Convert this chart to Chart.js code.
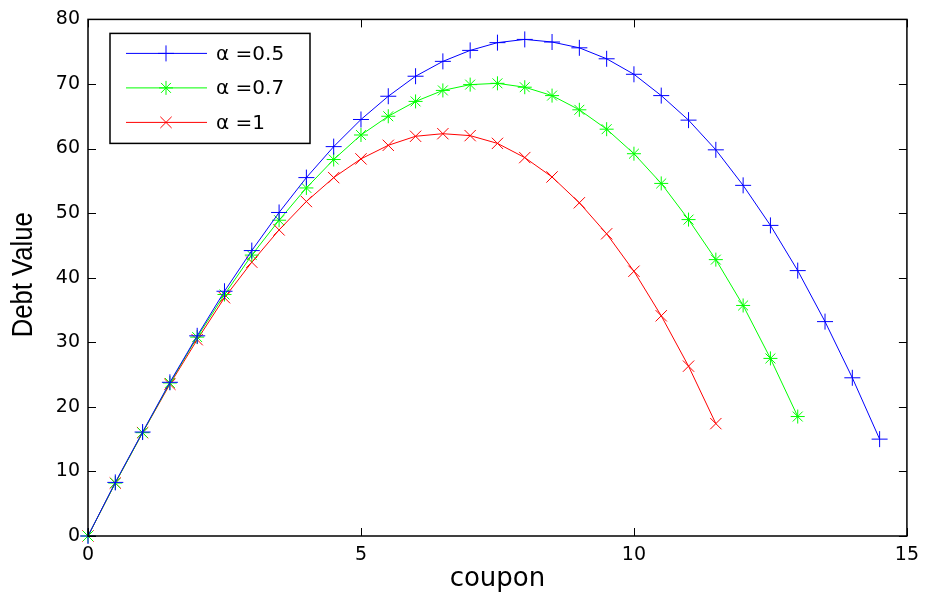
<!DOCTYPE html>
<html>
<head>
<meta charset="utf-8">
<script src="https://cdn.jsdelivr.net/npm/chart.js@4"></script>
<style>
  html, body { margin: 0; padding: 0; background: #fff; }
  #wrap { width: 927px; height: 597px; }
</style>
</head>
<body>
<div id="wrap"><canvas id="debtChart"></canvas></div>
<script>
// coupon grid (step 0.5)
const coupons = [0, 0.5, 1, 1.5, 2, 2.5, 3, 3.5, 4, 4.5, 5, 5.5, 6, 6.5, 7, 7.5,
  8, 8.5, 9, 9.5, 10, 10.5, 11, 11.5, 12, 12.5, 13, 13.5, 14, 14.5];

// debt value for each alpha
const debtA05 = [0, 8.3, 16.1, 23.8, 31.0, 37.9, 44.2, 50.1, 55.5, 60.3, 64.5, 68.1,
  71.2, 73.5, 75.2, 76.4, 76.9, 76.5, 75.6, 73.9, 71.5, 68.2, 64.4, 59.8, 54.3,
  48.1, 41.1, 33.2, 24.5, 15.0];
const debtA07 = [0, 8.2, 16.0, 23.7, 30.8, 37.4, 43.5, 48.9, 53.9, 58.3, 62.1, 65.0,
  67.3, 69.0, 69.9, 70.1, 69.5, 68.2, 66.0, 63.0, 59.2, 54.6, 49.0, 42.8, 35.7,
  27.5, 18.5];
const debtA1 = [0, 8.2, 16.0, 23.5, 30.4, 36.9, 42.4, 47.4, 51.8, 55.5, 58.4, 60.5,
  61.9, 62.3, 62.0, 60.8, 58.6, 55.6, 51.6, 46.8, 41.0, 34.1, 26.3, 17.4];

const seriesLabels = ["\u03b1 =0.5", "\u03b1 =0.7", "\u03b1 =1"];
const xTicks = [0, 5, 10, 15];
const yTicks = [0, 10, 20, 30, 40, 50, 60, 70, 80];
const yTitle = "Debt Value";

const toPoints = vals => vals.map((v, i) => ({ x: coupons[i], y: v }));

const FONT = "'DejaVu Sans', Arial, sans-serif";

// box + inward ticks on all four sides
const boxPlugin = {
  id: "box",
  afterDatasetsDraw(chart) {
    const { ctx, chartArea: a, scales } = chart;
    ctx.save();
    ctx.strokeStyle = "#000";
    ctx.lineWidth = 1;
    ctx.beginPath();
    xTicks.forEach(t => {
      const px = Math.round(scales.x.getPixelForValue(t)) + 0.5;
      ctx.moveTo(px, a.bottom); ctx.lineTo(px, a.bottom - 8);
      ctx.moveTo(px, a.top); ctx.lineTo(px, a.top + 8);
    });
    yTicks.forEach(t => {
      const py = Math.round(scales.y.getPixelForValue(t)) + 0.5;
      ctx.moveTo(a.left, py); ctx.lineTo(a.left + 8, py);
      ctx.moveTo(a.right, py); ctx.lineTo(a.right - 8, py);
    });
    ctx.stroke();
    ctx.lineWidth = 1.5;
    ctx.strokeRect(a.left, a.top, a.right - a.left, a.bottom - a.top);
    ctx.restore();
  }
};

// y title, rotated and squeezed along its length
const yTitlePlugin = {
  id: "yTitle",
  afterDraw(chart) {
    const { ctx, chartArea: a } = chart;
    ctx.save();
    ctx.font = "29px 'Liberation Sans', Arial, sans-serif";
    const w = ctx.measureText(yTitle).width;
    ctx.translate(24, (a.top + a.bottom) / 2 - 3);
    ctx.rotate(-Math.PI / 2);
    ctx.scale(125 / w, 1);
    ctx.fillStyle = "#000";
    ctx.textAlign = "center";
    ctx.textBaseline = "middle";
    ctx.fillText(yTitle, 0, 0);
    ctx.restore();
  }
};

// legend box in the upper left of the plot
const legendPlugin = {
  id: "boxLegend",
  afterDraw(chart) {
    const { ctx, chartArea: a } = chart;
    const x0 = a.left + 22, y0 = a.top + 14, w = 200, h = 110;
    ctx.save();
    ctx.fillStyle = "#fff";
    ctx.fillRect(x0, y0, w, h);
    ctx.strokeStyle = "#000";
    ctx.lineWidth = 1.5;
    ctx.strokeRect(x0, y0, w, h);
    chart.data.datasets.forEach((ds, i) => {
      const yy = y0 + 20 + i * 34.5;
      ctx.strokeStyle = ds.borderColor;
      ctx.lineWidth = 1;
      ctx.beginPath();
      ctx.moveTo(x0 + 16, yy);
      ctx.lineTo(x0 + 97, yy);
      ctx.stroke();
      Chart.helpers.drawPoint(ctx, {
        pointStyle: ds.pointStyle, radius: ds.pointRadius, borderWidth: 1
      }, x0 + 56, yy);
      ctx.fillStyle = "#000";
      ctx.font = "20px " + FONT;
      ctx.textBaseline = "middle";
      ctx.fillText(ds.label, x0 + 106, yy + 1);
    });
    ctx.restore();
  }
};

const styles = [
  { color: "#0000ff", point: "cross", r: 8 },
  { color: "#00ff00", point: "star", r: 7 },
  { color: "#ff0000", point: "crossRot", r: 8 }
];

const allSeries = [debtA05, debtA07, debtA1];

new Chart(document.getElementById("debtChart"), {
  type: "line",
  data: {
    datasets: allSeries.map((vals, i) => ({
      label: seriesLabels[i],
      data: toPoints(vals),
      borderColor: styles[i].color,
      backgroundColor: styles[i].color,
      borderWidth: 1,
      pointStyle: styles[i].point,
      pointRadius: styles[i].r,
      pointBorderWidth: 1,
      pointBorderColor: styles[i].color,
      tension: 0,
      clip: false
    }))
  },
  plugins: [boxPlugin, yTitlePlugin, legendPlugin],
  options: {
    responsive: true,
    maintainAspectRatio: false,
    animation: false,
    layout: { padding: { top: 14, right: 18, left: 0, bottom: 0 } },
    plugins: { legend: { display: false }, tooltip: { enabled: false } },
    scales: {
      x: {
        type: "linear",
        min: 0, max: 15,
        afterBuildTicks: s => { s.ticks = xTicks.map(v => ({ value: v })); },
        afterFit: s => { s.height = 61; },
        grid: { display: false, drawTicks: false },
        border: { display: false },
        ticks: { color: "#000", font: { family: FONT, size: 19 }, padding: 8 },
        title: {
          display: true, text: "coupon", color: "#000",
          font: { family: FONT, size: 26 }, padding: { top: 0, bottom: 2 }
        }
      },
      y: {
        min: 0, max: 80,
        afterBuildTicks: s => { s.ticks = yTicks.map(v => ({ value: v })); },
        afterFit: s => { s.width = 88; },
        grid: { display: false, drawTicks: false },
        border: { display: false },
        ticks: { color: "#000", font: { family: FONT, size: 19 }, padding: 8 }
      }
    }
  }
});
</script>
</body>
</html>
